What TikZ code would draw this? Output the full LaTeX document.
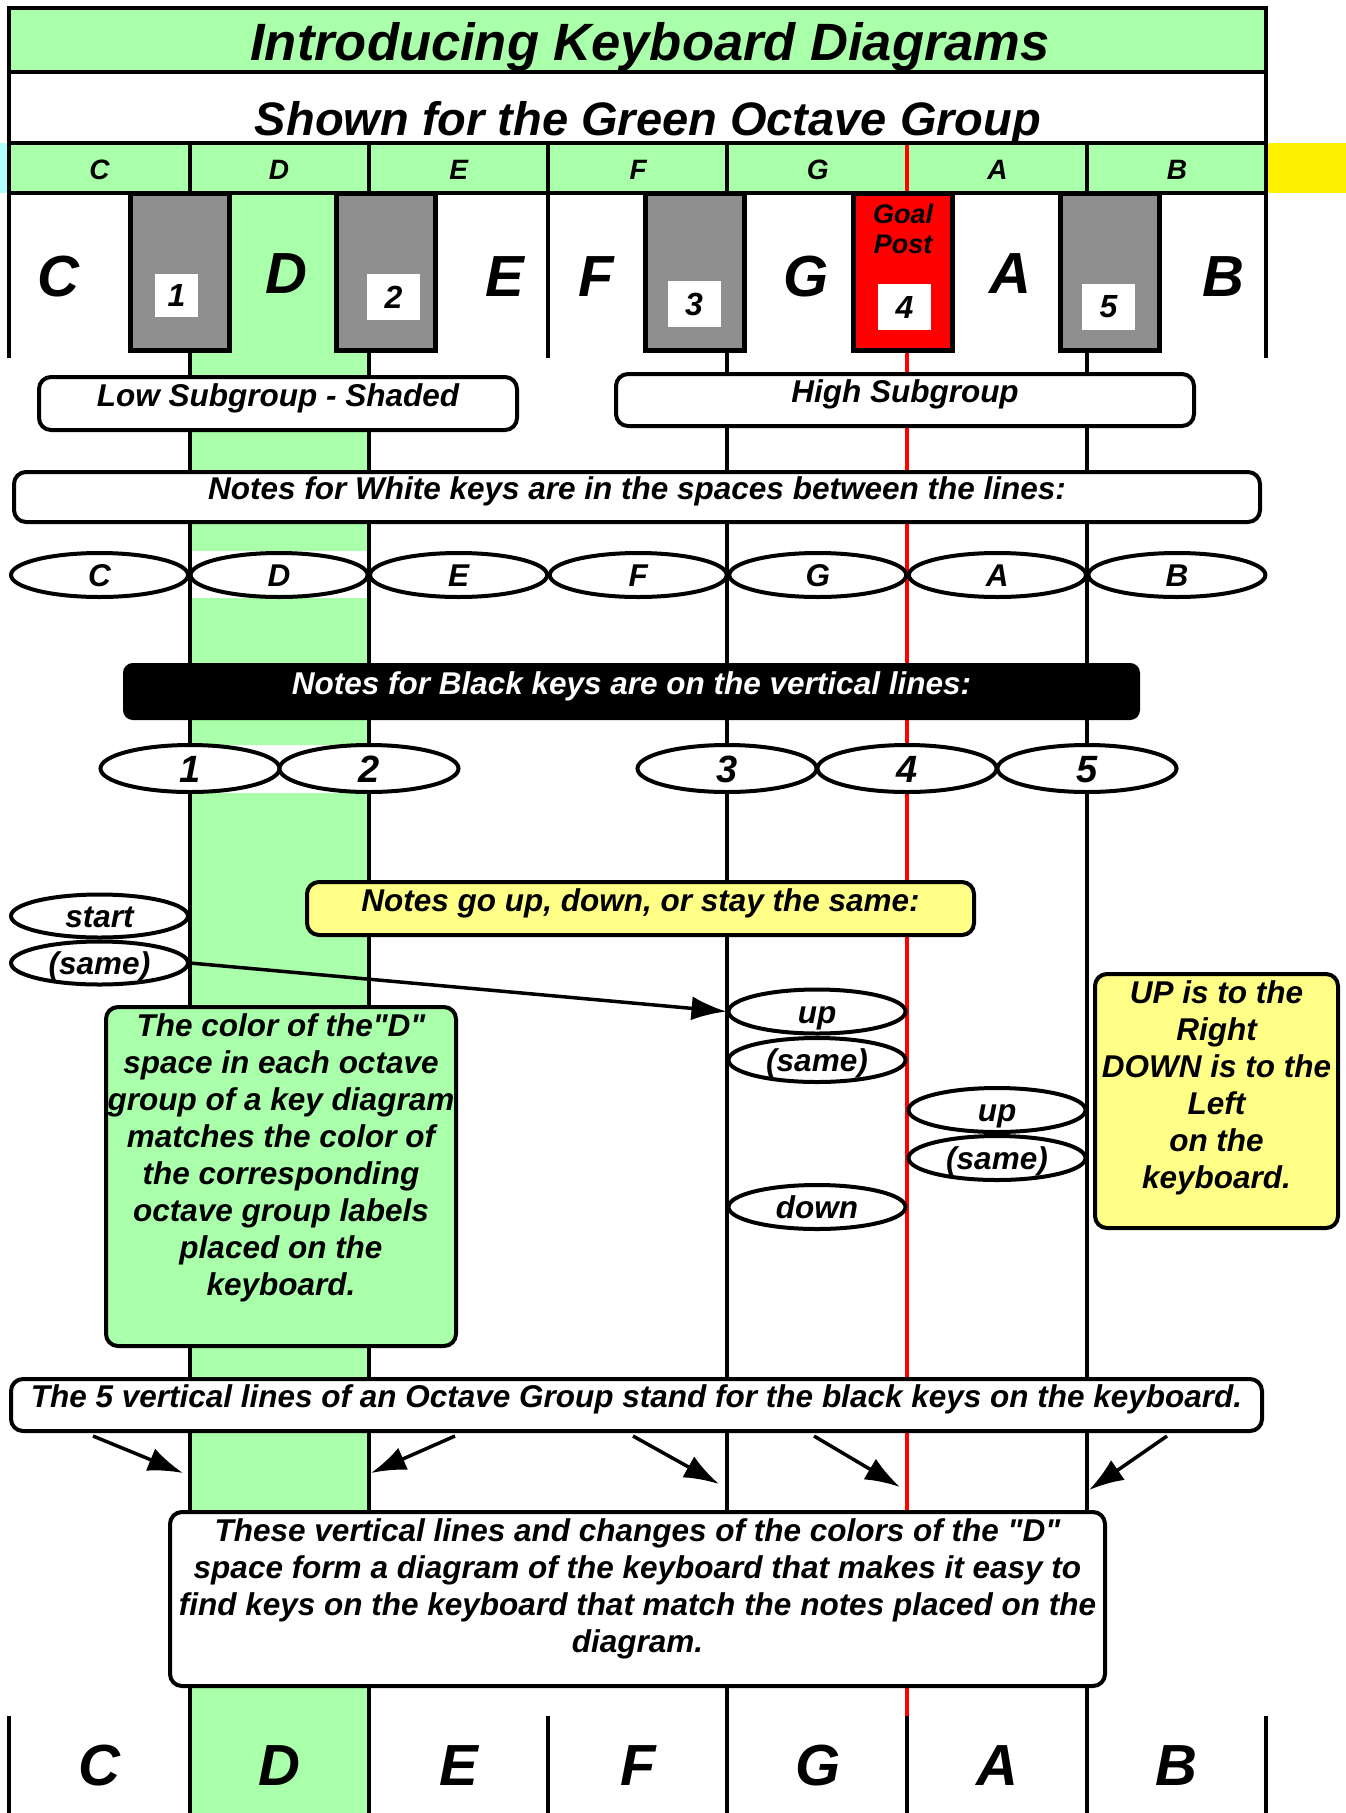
\documentclass[tikz,border=0pt]{standalone}
\usepackage{fontspec}
\setmainfont{Liberation Sans}
\usetikzlibrary{arrows.meta,positioning,shapes.geometric}
\definecolor{dgreen}{HTML}{AAFFAA}
\definecolor{paleyellow}{HTML}{FFFF88}
\definecolor{keygray}{HTML}{8F8F8F}
\definecolor{lightcyan}{HTML}{B0FFFF}
\newcommand{\smallbi}{\bfseries\itshape\fontsize{31.5}{37}\selectfont}
\newcommand{\titlefont}{\bfseries\itshape\fontsize{52.5}{60}\selectfont}
\newcommand{\subtitlefont}{\bfseries\itshape\fontsize{47}{54}\selectfont}
\newcommand{\bigletterfont}{\bfseries\itshape\fontsize{58}{62}\selectfont}
\newcommand{\hdrfont}{\bfseries\itshape\fontsize{28}{30}\selectfont}
\newcommand{\digitfont}{\bfseries\itshape\fontsize{38}{40}\selectfont}
\newcommand{\keynumfont}{\bfseries\itshape\fontsize{32}{34}\selectfont}
\newcommand{\goalfont}{\bfseries\itshape\fontsize{27}{30}\selectfont}
\tikzset{
  >={Latex[length=35pt,width=24pt]},
  textbox/.style={draw,line width=4pt,rounded corners=12pt,fill=white,inner sep=0pt,font=\smallbi,text height=23pt,text depth=18pt},
  boxtext/.style={font=\smallbi,align=center,inner sep=0pt},
  noteoval/.style={ellipse,draw,line width=4pt,fill=white,inner sep=0pt,minimum width=177pt,minimum height=44pt,font=\smallbi,text height=23pt,text depth=0pt},
  blackkey/.style={draw,line width=5pt,fill=keygray,inner sep=0pt,outer sep=0pt,minimum width=99pt,minimum height=157.5pt,anchor=north},
  numbox/.style={fill=white,inner sep=0pt,minimum width=53pt,minimum height=46pt,font=\keynumfont},
  keyletter/.style={font=\bigletterfont,anchor=base},
  hdrletter/.style={font=\hdrfont,anchor=base},
  colline/.style={line width=4pt},
  goalline/.style={red,line width=3.5pt},
  arrow/.style={->,line width=3.5pt},
}
\begin{document}
\begin{tikzpicture}[x=1pt,y=-1pt]
	\useasboundingbox[fill=white] (0,0) rectangle (1346,1813);
	\fill[dgreen] (190,193) rectangle (369,1813);
	\fill[white] (190,551) rectangle (369,598);
	\fill[white] (190,745) rectangle (369,793);
	\fill[dgreen] (9,8) rectangle (1266,72);
	\fill[dgreen] (9,143) rectangle (1266,193);
	\fill[lightcyan] (0,143) rectangle (9,193);
	\fill[yellow] (1266,143) rectangle (1346,193);
	\foreach \x in {190,369,727,1087} \draw[colline] (\x,143) -- (\x,1813);
	\draw[colline] (548,143) -- (548,358);
	\draw[goalline] (907,143) -- (907,1716);
	\foreach \x in {9,548,907,1266} \draw[colline] (\x,1716) -- (\x,1813);
	\draw[colline,line width=4.5pt] (9,358) -- (9,8) -- (1266,8) -- (1266,358);
	\foreach \y in {72,143,193} \draw[colline,line width=4.5pt] (9,\y) -- (1266,\y);
	\node[font=\titlefont,anchor=base] (title) at (650,60) {Introducing Keyboard Diagrams};
	\node[font=\subtitlefont,anchor=base] (subtitle) at (648,135) {Shown for the Green Octave Group};
	\foreach \n [count=\i from 0] in {C,D,E,F,G,A,B}
		\node[hdrletter] (h\n) at ({99.5+179.57*\i},179) {\n};
	\node[blackkey] (k1) at (179.5,193) {};
	\node[blackkey] (k2) at (386,193) {};
	\node[blackkey] (k3) at (695,193) {};
	\node[blackkey,fill=red] (k4) at (902.5,193) {};
	\node[blackkey] (k5) at (1109.5,193) {};
	\node[numbox,minimum width=43pt,minimum height=43pt] (n1) at (176.5,295.5) {1};
	\node[numbox] (n2) at (393.5,297) {2};
	\node[numbox] (n3) at (694,304) {3};
	\node[numbox] (n4) at (904.5,307) {4};
	\node[numbox] (n5) at (1108.5,307) {5};
	\node[font=\goalfont,align=center,inner sep=0pt] (goal) at (903,229) {Goal\\Post};
	\foreach \n/\x/\y in {C/58/296,D/286/293,E/505/296,F/596/296,G/806/296,A/1010/293,B/1223/296}
		\node[keyletter] (k\n) at (\x,\y) {\n};
	\node[textbox,minimum width=478pt,minimum height=53pt] (low) at (278,403.5) {Low Subgroup - Shaded};
	\node[textbox,minimum width=578pt,minimum height=52pt] (high) at (905,400) {High Subgroup};
	\node[textbox,minimum width=1246pt,minimum height=50pt] (whitenotes) at (637,497) {Notes for White keys are in the spaces between the lines:};
	\foreach \n [count=\i from 0] in {C,D,E,F,G,A,B}
		\node[noteoval] (w\n) at ({99.5+179.57*\i},575) {\n};
	\node[textbox,fill=black,text=white,rounded corners=8pt,minimum width=1013pt,minimum height=53pt] (blacknotes) at (631.5,691.5) {Notes for Black keys are on the vertical lines:};
	\foreach \n/\x in {1/190,2/369,3/727,4/907,5/1087}
		\node[noteoval,minimum width=179pt,minimum height=47pt,font=\digitfont,text height=27pt] (b\n) at (\x,768.5) {\n};
	\node[textbox,fill=paleyellow,minimum width=667pt,minimum height=53pt] (updown) at (640.5,908.5) {Notes go up, down, or stay the same:};
	\node[noteoval,minimum height=43pt] (start) at (99.5,916) {start};
	\node[noteoval,minimum height=43pt] (same1) at (99.5,963) {(same)};
	\node[noteoval] (up1) at (817,1011.5) {up};
	\node[noteoval] (same2) at (817,1060) {(same)};
	\node[noteoval] (up2) at (997,1110) {up};
	\node[noteoval] (same3) at (997,1158) {(same)};
	\node[noteoval] (down) at (817,1207) {down};
	\draw[arrow] (same1.east) -- (up1.west);
	\node[textbox,fill=dgreen,minimum width=350pt,minimum height=339pt] (colorbox) at (281,1176.5) {};
	\node[boxtext,below=8pt of colorbox.north] (colortext) {The color of the\textquotedbl D\textquotedbl\\space in each octave\\group of a key diagram\\matches the color of\\the corresponding\\octave group labels\\placed on the\\keyboard.};
	\node[textbox,fill=paleyellow,minimum width=243pt,minimum height=254pt] (dirbox) at (1216.5,1101) {};
	\node[boxtext,below=8pt of dirbox.north] (dirtext) {UP is to the\\Right\\DOWN is to the\\Left\\on the\\keyboard.};
	\node[textbox,minimum width=1251pt,minimum height=52pt] (fivelines) at (636.5,1405) {The 5 vertical lines of an Octave Group stand for the black keys on the keyboard.};
	\foreach \sx/\tx/\ty [count=\i] in {93/183/1473,455/371/1473,633/719/1484,814/900/1487,1167/1089/1490}{
		\coordinate (s\i) at (\sx,1436);
		\coordinate (t\i) at (\tx,\ty);
		\draw[arrow] (s\i) -- (t\i);
	}
	\node[textbox,minimum width=935pt,minimum height=174pt] (lower) at (637.5,1599) {};
	\node[boxtext,below=8pt of lower.north] (lowertext) {These vertical lines and changes of the colors of the \textquotedbl D\textquotedbl\\space form a diagram of the keyboard that makes it easy to\\find keys on the keyboard that match the notes placed on the\\diagram.};
	\foreach \n [count=\i from 0] in {C,D,E,F,G,A,B}
		\node[keyletter] (bot\n) at ({99.5+179.57*\i},1785) {\n};
\end{tikzpicture}
\end{document}
